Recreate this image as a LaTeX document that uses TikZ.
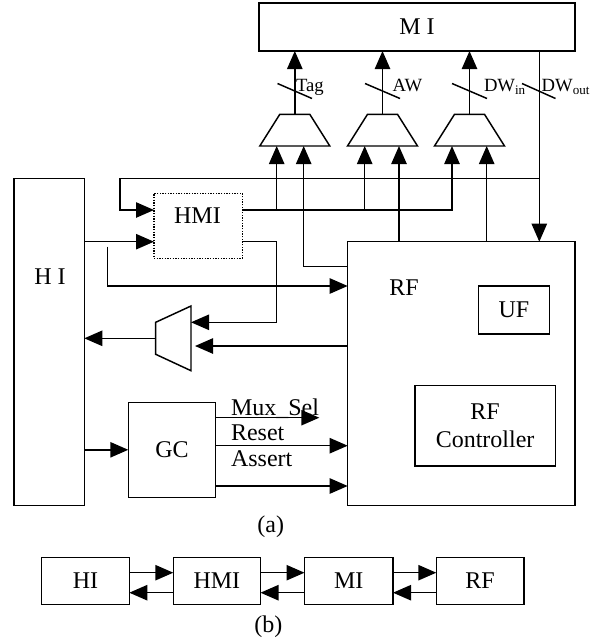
\documentclass[tikz,border=0pt]{standalone}
\usepackage{fontspec}
\setmainfont{Liberation Serif}
\usetikzlibrary{arrows.meta,fit,calc}
\begin{document}
\begin{tikzpicture}[x=0.75pt,y=-0.75pt,
  line width=1.1pt,
  every node/.style={inner sep=0pt, outer sep=0pt},
  box/.style={draw, line width=1.1pt, inner sep=0pt},
  dbox/.style={draw, densely dotted, line width=1pt, inner sep=0pt},
  arr/.style={-{Triangle[length=13.5pt,width=11.5pt]}},
  lbl/.style={font=\fontsize{18}{20.5}\selectfont},
  slbl/.style={font=\fontsize{14}{16}\selectfont},
]
\useasboundingbox (0,0) rectangle (597,640);

% helper y levels
\coordinate (y178) at (0,178.3);
\coordinate (y210) at (0,210);
\coordinate (y241) at (0,241.7);
\coordinate (y266) at (0,266.7);
\coordinate (y286) at (0,286);
\coordinate (y322) at (0,322.3);
\coordinate (y346) at (0,346);
\coordinate (y572) at (0,572.7);
\coordinate (y592) at (0,592.7);

% ---- boxes (a)
\node[box, fit={(259,3)(575,51)}] (mi) {};
\node[lbl] at (mi.center) {M I};
\node[box, fit={(14,178.3)(84.3,505.7)}] (hi) {};
\node[lbl] at (50,276.7) {H I};
\node[dbox, fit={(154,193.3)(242.3,258.3)}] (hmi) {};
\node[lbl] at (197.5,216) {HMI};
\node[box, fit={(347.7,241.7)(575,505.7)}] (rf) {};
\node[lbl] at (404,288) {RF};
\node[box, fit={(478.7,286)(549.3,334)}] (uf) {};
\node[lbl] at (uf.center) {UF};
\node[box, fit={(414.9,385.7)(555.3,466)}] (rfc) {};
\node[lbl, align=center] at (rfc.center) {RF\\Controller};
\node[box, fit={(128.3,402.3)(215.7,497.3)}] (gc) {};
\node[lbl] at (gc.center) {GC};

% ---- top multiplexers
\foreach \n/\cx in {1/294.8, 2/382.5, 3/469.5} {
  \draw (\cx-15,114.3) -- (\cx+15,114.3) -- (\cx+35,146) -- (\cx-35,146) -- cycle;
  \coordinate (mux\n) at (\cx,114.3);
}
\coordinate (m1a) at (276.7,146);
\coordinate (m1b) at (303.7,146);
\coordinate (m2a) at (364.7,146);
\coordinate (m2b) at (399,146);
\coordinate (m3a) at (452,146);
\coordinate (m3b) at (486.7,146);
\coordinate (dwo) at (539.3,0);

% ---- output multiplexer to HI
\draw (191,306) -- (191,370.7) -- (155.7,354.3) -- (155.7,322.3) -- cycle;
\coordinate (omux) at (155.7,338.3);
\coordinate (omuxa) at (191,322.3);
\coordinate (omuxb) at (195,346);

% ---- mux outputs to MI with bus slashes
\foreach \n in {1,2,3} {
  \draw[arr] (mux\n) -- (mux\n |- mi.south);
}
\draw (277.5,83.5) -- (312,98.5);
\draw (365,83.5) -- (400,98.5);
\draw (452,83.5) -- (487,98.5);
\draw (522,83.5) -- (555.5,98.5);
\node[slbl, anchor=base west] at (296,91.5) {Tag};
\node[slbl, anchor=base west] at (392.7,91.5) {AW};
\node[slbl, anchor=base west] at (484,91.5) {DW\textsubscript{in}};
\node[slbl, anchor=base west] at (541.7,91.5) {DW\textsubscript{out}};

% ---- DW_out from MI
\draw[arr] (dwo |- mi.south) -- (dwo |- rf.north);
\draw[arr] (dwo |- y178) -- (120,178.3) -- (120,210) -- (hmi.west |- y210);

% ---- HMI outputs
\draw[arr] (hmi.east |- y210) -| (m3a);
\draw[arr] (m1a |- y210) -- (m1a);
\draw[arr] (m2a |- y210) -- (m2a);
\draw[arr] (hmi.east |- y241) -- (m1a |- y241) -- (m1a |- y322) -- (omuxa);

% ---- RF outputs to muxes
\draw[arr] (rf.west |- y266) -| (m1b);
\draw[arr] (m2b |- rf.north) -- (m2b);
\draw[arr] (m3b |- rf.north) -- (m3b);
\draw[arr] (rf.west |- y346) -- (omuxb);

% ---- HI connections
\draw[arr] (omux) -- (hi.east |- omux);
\draw[arr] (hi.east |- y241) -- (hmi.west |- y241);
\draw[arr] (107.3,246.7) -- (107.3,286) -- (rf.west |- y286);
\draw[arr] (hi.east |- gc.west) -- (gc.west);

% ---- GC outputs
\coordinate (msel) at (319.3,417.7);
\draw[arr] (gc.east |- msel) -- (msel);
\draw[arr] (gc.east |- 0,445.7) -- (rf.west |- 0,445.7);
\draw[arr] (gc.east |- 0,486) -- (rf.west |- 0,486);
\node[lbl, anchor=base west] at (231,415) {Mux\_Sel};
\node[lbl, anchor=base west] at (231,440.5) {Reset};
\node[lbl, anchor=base west] at (231,466) {Assert};

\node[lbl] at (270.7,526.7) {(a)};

% ---- (b)
\node[box, fit={(41.7,557.3)(129.3,604.3)}] (bhi) {};
\node[lbl] at (bhi.center) {HI};
\node[box, fit={(173.3,557.3)(260.5,604.3)}] (bhmi) {};
\node[lbl] at (bhmi.center) {HMI};
\node[box, fit={(304.5,557.3)(393,604.3)}] (bmi) {};
\node[lbl] at (bmi.center) {MI};
\node[box, fit={(436.3,557.3)(524,604.3)}] (brf) {};
\node[lbl] at (brf.center) {RF};
\foreach \a/\b in {bhi/bhmi, bhmi/bmi, bmi/brf} {
  \draw[arr] (\a.east |- y572) -- (\b.west |- y572);
  \draw[arr] (\b.west |- y592) -- (\a.east |- y592);
}
\node[lbl] at (268.3,626.7) {(b)};
\end{tikzpicture}
\end{document}
